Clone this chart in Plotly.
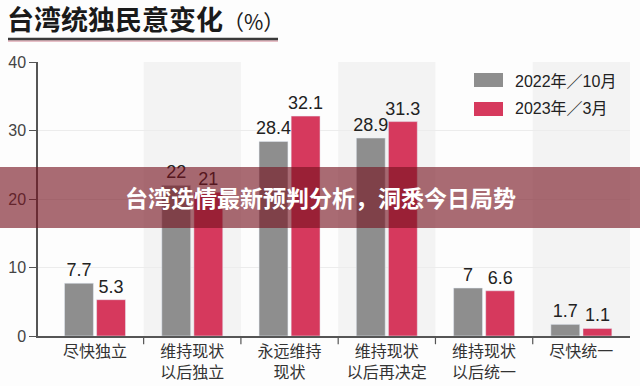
import plotly.graph_objects as go

categories = ["尽快独立", "维持现状<br>以后独立", "永远维持<br>现状", "维持现状<br>以后再决定", "维持现状<br>以后统一", "尽快统一"]
series_names = ["2022年／10月", "2023年／3月"]
values_2022 = [7.7, 22, 28.4, 28.9, 7, 1.7]
values_2023 = [5.3, 21, 32.1, 31.3, 6.6, 1.1]
y_ticks = [0, 10, 20, 30, 40]

title_text = "台湾统独民意变化"
title_unit = "（%）"
banner_text = "台湾选情最新预判分析，洞悉今日局势"

GRAY = "#8e8e8e"
RED = "#d6395d"
W, H = 640, 386
ML, MR, MT, MB = 38, 10, 62, 50
PW, PH = W - ML - MR, H - MT - MB


def px(p):
    return (p - ML) / PW


def py(q):
    return (H - MB - q) / PH


num_font = "Liberation Sans Narrow, Liberation Sans, Arial"
cjk_font = "Noto Sans CJK SC, Noto Sans, sans-serif"

fig = go.Figure()
for name, vals, col in [(series_names[0], values_2022, GRAY), (series_names[1], values_2023, RED)]:
    fig.add_trace(go.Bar(
        x=list(range(len(categories))), y=vals, name=name, marker_color=col,
        text=[f"{v:g}" for v in vals], textposition="outside", cliponaxis=False,
        constraintext="none",
        textfont=dict(family=num_font, size=18, color="#222"),
        showlegend=False,
    ))

shapes = []
# alternating column backgrounds
for i in range(len(categories)):
    if i % 2 == 1:
        shapes.append(dict(type="rect", xref="x", yref="paper", x0=i - 0.5, x1=i + 0.5,
                           y0=0, y1=1, fillcolor="#f3f3f3", line_width=0, layer="below"))
# category separators below axis
for i in range(len(categories) - 1):
    shapes.append(dict(type="line", xref="x", yref="paper", x0=i + 0.5, x1=i + 0.5,
                       y0=0, y1=-0.03, line=dict(color="#555", width=1.2)))
# title underline
shapes.append(dict(type="line", xref="paper", yref="paper", x0=px(8), x1=px(278),
                   y0=py(41), y1=py(41), line=dict(color="rgba(210,130,145,0.5)", width=2)))
shapes.append(dict(type="line", xref="paper", yref="paper", x0=px(8), x1=px(278),
                   y0=py(39), y1=py(39), line=dict(color="#3a3a3a", width=2.5)))
# legend swatches
shapes.append(dict(type="rect", xref="paper", yref="paper", x0=px(474), x1=px(503),
                   y0=py(87), y1=py(73), fillcolor=GRAY, line_width=0))
shapes.append(dict(type="rect", xref="paper", yref="paper", x0=px(474), x1=px(503),
                   y0=py(116), y1=py(102), fillcolor=RED, line_width=0))
# banner
shapes.append(dict(type="rect", xref="paper", yref="paper", x0=px(0), x1=px(W),
                   y0=py(228), y1=py(167), fillcolor="rgba(118,18,30,0.62)", line_width=0,
                   layer="above"))

annotations = [
    dict(xref="paper", yref="paper", x=px(5), y=py(19), xanchor="left", yanchor="middle",
         text=f"<b>{title_text}</b><span style='font-size:21px'>{title_unit}</span>",
         showarrow=False, font=dict(family=cjk_font, size=27, color="#1a1a1a")),
    dict(xref="paper", yref="paper", x=px(513), y=py(81), xanchor="left", yanchor="middle",
         text=series_names[0], showarrow=False,
         font=dict(family="Liberation Sans, Noto Sans CJK SC", size=16, color="#222")),
    dict(xref="paper", yref="paper", x=px(513), y=py(109), xanchor="left", yanchor="middle",
         text=series_names[1], showarrow=False,
         font=dict(family="Liberation Sans, Noto Sans CJK SC", size=16, color="#222")),
    dict(xref="paper", yref="paper", x=px(320), y=py(197), xanchor="center", yanchor="middle",
         text=f"<b>{banner_text}</b>", showarrow=False,
         font=dict(family=cjk_font, size=23, color="white")),
]

fig.update_layout(
    width=W, height=H,
    margin=dict(l=ML, r=MR, t=MT, b=MB, pad=0, autoexpand=False),
    paper_bgcolor="#fdfdfd", plot_bgcolor="#fdfdfd",
    barmode="group", bargap=0.34, bargroupgap=0.1,
    shapes=shapes, annotations=annotations,
    xaxis=dict(
        tickmode="array", tickvals=list(range(len(categories))), ticktext=categories,
        range=[-0.586, 5.5], showgrid=False, zeroline=False, automargin=False,
        showline=True, linecolor="#555", linewidth=1.5, ticks="",
        tickfont=dict(family=cjk_font, size=16, color="#333"),
    ),
    yaxis=dict(
        range=[0, 40], tickvals=y_ticks, showgrid=True, gridcolor="#ececec", gridwidth=1,
        zeroline=False, showline=True, linecolor="#555", linewidth=1.5, automargin=False,
        ticks="outside", ticklen=7, tickcolor="#555", tickwidth=1,
        tickfont=dict(family="Liberation Sans, Arial", size=16, color="#444"),
    ),
)

fig.write_html("out.html", config={"displayModeBar": False},
               post_script="document.body.style.margin='0';document.body.style.overflow='hidden';")
